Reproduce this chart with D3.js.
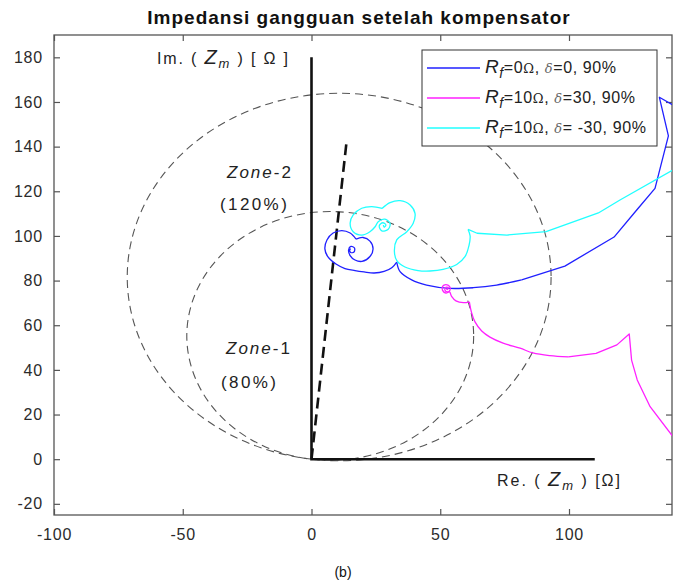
<!DOCTYPE html>
<head>
  <meta charset="utf-8">
  <script src="https://d3js.org/d3.v7.min.js"></script>
  <style>
    body { margin: 0; background: #fff; }
    svg { width: 681px; height: 585px; font-family: 'Liberation Sans', Arial, sans-serif; }
  </style>
</head>

<body>
  <svg></svg>

  <script>
    const width = 681;
    const height = 585;
    const margin = {left: 54, top: 35, right: 9, bottom: 70};

    // axis ranges + ticks
    const xDomain = [-100, 140];
    const yDomain = [-25, 190];
    const xTicks = [-100, -50, 0, 50, 100];
    const yTicks = [-20, 0, 20, 40, 60, 80, 100, 120, 140, 160, 180];

    // mho zones (diameter in ohm, characteristic angle in deg)
    const zoneNames = ['Zone-1', 'Zone-2'];
    const zonePct = ['(80%)', '(120%)'];
    const zoneDiameters = [111.4, 164.6];
    const zoneAngle = 82.5;

    // line impedance (dashed) end, and the R / X axes drawn inside the plot
    const lineEnd = [13.5, 141];
    const imAxisTop = 180;
    const reAxisEnd = 110;

    // trajectories [R, X]
    const blue = [
      [150.9, 151.6], [135.1, 162.1], [138.6, 144.8], [133.4, 121.3], [126.3, 111.6],
      [117.5, 99.5], [98.4, 86.5], [81.6, 80.3], [71.9, 78.0], [62.8, 76.8],
      [53.8, 76.5], [44.7, 78.0], [38.9, 80.3], [34.4, 84.0], [33.1, 88.3],
      [31.3, 85.9], [28.2, 84.1], [24.3, 83.4], [20.4, 83.9], [16.9, 84.5],
      [13.0, 85.4], [9.5, 87.4], [6.4, 90.6], [5.2, 94.2], [6.0, 98.2],
      [8.4, 101.3], [11.8, 102.4], [15.0, 101.3], [17.3, 98.6], [20.0, 99.3],
      [22.7, 97.7], [23.9, 94.2], [22.7, 90.8], [19.6, 88.6], [16.9, 89.2],
      [15.0, 91.2], [14.4, 93.7], [15.3, 95.3], [16.7, 94.6], [16.5, 92.8],
      [15.2, 92.6], [14.8, 93.9], [15.3, 94.2]
    ];
    const magenta = [
      [145, 3.1], [139.9, 10.8], [131.5, 23.5], [126.5, 35.5], [124.3, 44.4],
      [123.4, 56.1], [118.6, 51.2], [110.5, 47.4], [99.7, 45.8], [92.6, 46.4],
      [86.0, 47.6], [81.0, 49.7], [74.4, 52.0], [69.3, 54.7], [66.1, 57.4],
      [63.5, 61.5], [62.1, 65.9], [61.3, 70.5], [59.0, 70.1], [56.1, 70.9],
      [54.4, 72.9], [53.6, 74.9], [52.2, 74.4], [50.9, 75.6], [50.9, 77.4],
      [52.2, 78.2], [53.6, 77.4], [53.8, 75.8], [52.8, 74.9], [51.8, 75.8],
      [52.0, 76.9], [53.0, 76.9], [52.8, 76.0], [52.4, 76.2]
    ];
    const cyan = [
      [150.9, 136.5], [140.3, 129.5], [119.8, 116.1], [111.4, 110.3], [91.1, 101.9],
      [75.9, 100.4], [64.3, 101.2], [60.8, 102.9], [61.6, 100.0], [61.2, 95.9],
      [59.6, 90.7], [56.4, 87.2], [51.1, 85.0], [46.0, 84.3], [41.4, 84.5],
      [36.3, 86.1], [33.2, 88.8], [32.2, 93.0], [33.1, 98.2], [37.0, 101.9],
      [39.5, 105.7], [40.2, 110.1], [38.3, 113.9], [34.4, 115.8], [30.5, 114.9],
      [27.4, 112.3], [23.4, 113.1], [19.5, 112.4], [16.2, 109.4], [15.0, 105.7],
      [16.2, 101.9], [19.5, 100.4], [22.7, 101.9], [24.7, 104.1], [25.9, 106.4],
      [28.5, 107.5], [30.5, 105.7], [29.8, 103.0], [27.3, 102.3], [26.3, 104.5],
      [27.7, 105.9], [28.9, 104.9], [28.2, 103.9], [27.9, 104.9]
    ];

    const seriesData = [blue, magenta, cyan];
    const seriesColors = ['#2020ff', '#ff20ff', '#20ffff'];
    // coarse (straight) part of each trajectory and its sharp corners
    const straightUntil = [7, 8, 7];
    const cornerIdx = [[14, 28], [17], [25]];
    const rfValues = ['0', '10', '10'];
    const deltaValues = ['0', '30', ' -30'];

    const svg = d3.select('svg');
    const plotW = width - margin.left - margin.right;
    const plotH = height - margin.top - margin.bottom;

    const x = d3.scaleLinear().domain(xDomain).range([margin.left, margin.left + plotW]);
    const y = d3.scaleLinear().domain(yDomain).range([margin.top + plotH, margin.top]);

    svg.append('defs').append('clipPath').attr('id', 'plotClip')
      .append('rect')
      .attr('x', margin.left).attr('y', margin.top)
      .attr('width', plotW).attr('height', plotH);

    /*****************************************************
    ** axes box with inward ticks
    ******************************************************/
    const tickLen = 6;
    const axisColor = '#555';
    const fmt = d => String(d);

    svg.append('g')
      .attr('transform', `translate(0,${margin.top + plotH})`)
      .call(d3.axisBottom(x).tickValues(xTicks).tickFormat(fmt).tickSizeInner(-tickLen).tickSizeOuter(0).tickPadding(14))
      .call(g => g.select('.domain').remove());
    svg.append('g')
      .attr('transform', `translate(0,${margin.top})`)
      .call(d3.axisTop(x).tickValues(xTicks).tickSizeInner(-tickLen).tickSizeOuter(0).tickFormat(''))
      .call(g => g.select('.domain').remove());
    svg.append('g')
      .attr('transform', `translate(${margin.left},0)`)
      .call(d3.axisLeft(y).tickValues(yTicks).tickFormat(fmt).tickSizeInner(-tickLen).tickSizeOuter(0).tickPadding(11))
      .call(g => g.select('.domain').remove());
    svg.append('g')
      .attr('transform', `translate(${margin.left + plotW},0)`)
      .call(d3.axisRight(y).tickValues(yTicks).tickSizeInner(-tickLen).tickSizeOuter(0).tickFormat(''))
      .call(g => g.select('.domain').remove());

    svg.selectAll('.tick line').attr('stroke', axisColor).attr('stroke-width', 1.2);
    svg.selectAll('.tick text')
      .attr('fill', '#2b2b2b')
      .style('font-size', '16px')
      .style('letter-spacing', '0.8px')
      .style('font-family', "'Liberation Sans', Arial, sans-serif");

    svg.append('rect')
      .attr('x', margin.left).attr('y', margin.top)
      .attr('width', plotW).attr('height', plotH)
      .attr('fill', 'none').attr('stroke', axisColor).attr('stroke-width', 1.3);

    const plot = svg.append('g').attr('clip-path', 'url(#plotClip)');

    /*****************************************************
    ** mho circles (ellipses because axes are not equal)
    ******************************************************/
    const rad = zoneAngle * Math.PI / 180;
    plot.selectAll('ellipse.zone')
      .data(zoneDiameters).enter().append('ellipse')
      .attr('class', 'zone')
      .attr('cx', d => x(d / 2 * Math.cos(rad)))
      .attr('cy', d => y(d / 2 * Math.sin(rad)))
      .attr('rx', d => x(d / 2) - x(0))
      .attr('ry', d => y(0) - y(d / 2))
      .attr('fill', 'none')
      .attr('stroke', '#555')
      .attr('stroke-width', 1.1)
      .attr('stroke-dasharray', '8,5');

    // R and X axes in the plane
    plot.append('path')
      .attr('d', d3.line()([[x(0), y(imAxisTop)], [x(0), y(0)], [x(reAxisEnd), y(0)]]))
      .attr('fill', 'none').attr('stroke', '#111').attr('stroke-width', 2.6);

    // line impedance
    plot.append('line')
      .attr('x1', x(0)).attr('y1', y(0))
      .attr('x2', x(lineEnd[0])).attr('y2', y(lineEnd[1]))
      .attr('stroke', '#111').attr('stroke-width', 2.6)
      .attr('stroke-dasharray', '11,6');

    /*****************************************************
    ** trajectories: straight coarse part, smooth loops split at corners
    ******************************************************/
    const straight = d3.line().x(d => x(d[0])).y(d => y(d[1]));
    const smooth = d3.line().x(d => x(d[0])).y(d => y(d[1]))
      .curve(d3.curveCatmullRom.alpha(0.5));

    seriesData.forEach((pts, i) => {
      const g = plot.append('g')
        .attr('fill', 'none')
        .attr('stroke', seriesColors[i])
        .attr('stroke-width', 1.3)
        .attr('stroke-linejoin', 'round');
      const s = straightUntil[i];
      g.append('path').attr('d', straight(pts.slice(0, s + 1)));
      const breaks = [s].concat(cornerIdx[i].filter(k => k > s), [pts.length - 1]);
      for (let k = 0; k < breaks.length - 1; k++) {
        g.append('path').attr('d', smooth(pts.slice(breaks[k], breaks[k + 1] + 1)));
      }
    });

    /*****************************************************
    ** annotations
    ******************************************************/
    function zLabel(px, py, prefix, suffix, len) {
      const t = svg.append('text').attr('x', px).attr('y', py)
        .attr('fill', '#222').style('font-size', '16px')
        .attr('textLength', len).attr('lengthAdjust', 'spacing');
      t.append('tspan').text(prefix);
      t.append('tspan').attr('font-style', 'italic').style('font-size', '20px').text('Z');
      t.append('tspan').attr('font-style', 'italic').style('font-size', '13px').attr('dy', 4).text('m');
      t.append('tspan').attr('dy', -4).text(suffix);
    }
    zLabel(157, 64, 'Im. (  ', ' ) [ Ω ]', 131);
    zLabel(497, 486, 'Re. (  ', ' ) [Ω]', 123);

    const zoneLabelPos = [[226, 354, 221, 388], [227, 178, 220, 210]];
    zoneNames.forEach((name, i) => {
      const p = zoneLabelPos[i];
      const parts = name.split('-');
      const t = svg.append('text').attr('x', p[0]).attr('y', p[1])
        .attr('fill', '#222').style('font-size', '17px').style('letter-spacing', '2px');
      t.append('tspan').attr('font-style', 'italic').text(parts[0]);
      t.append('tspan').text('-' + parts[1]);
      svg.append('text').attr('x', p[2]).attr('y', p[3])
        .attr('fill', '#222').style('font-size', '17px').style('letter-spacing', '2.4px')
        .text(zonePct[i]);
    });

    svg.append('text')
      .attr('x', 359).attr('y', 24)
      .attr('text-anchor', 'middle')
      .attr('font-weight', 'bold')
      .style('font-size', '19px')
      .style('letter-spacing', '1px')
      .attr('fill', '#111')
      .text('Impedansi gangguan setelah kompensator');

    svg.append('text')
      .attr('x', 343).attr('y', 577)
      .attr('text-anchor', 'middle')
      .style('font-size', '14px')
      .attr('fill', '#111')
      .text('(b)');

    /*****************************************************
    ** legend
    ******************************************************/
    const legend = svg.append('g');
    legend.append('rect')
      .attr('x', 422).attr('y', 50).attr('width', 235).attr('height', 96)
      .attr('fill', '#fff').attr('stroke', '#333').attr('stroke-width', 1);

    seriesColors.forEach((c, i) => {
      const ry = 68 + i * 30;
      legend.append('line')
        .attr('x1', 427).attr('x2', 480).attr('y1', ry).attr('y2', ry)
        .attr('stroke', c).attr('stroke-width', 1.3);
      const t = legend.append('text').attr('x', 485).attr('y', ry + 5)
        .attr('fill', '#222').style('font-size', '16px').style('letter-spacing', '0.6px');
      t.append('tspan').attr('font-style', 'italic').style('font-size', '19px').text('R');
      t.append('tspan').attr('font-style', 'italic').style('font-size', '14px').attr('dy', 5).text('f');
      t.append('tspan').attr('dy', -5).text('=' + rfValues[i]);
      t.append('tspan').style('font-family', "'DejaVu Serif', serif").style('font-size', '13px').text('Ω');
      t.append('tspan').text(', ');
      t.append('tspan').attr('font-style', 'italic').style('font-family', "'DejaVu Serif', serif")
        .style('font-size', '13px').attr('fill', '#666').text('δ');
      t.append('tspan').text('=' + deltaValues[i] + ', 90%');
    });
  </script>
</body>
